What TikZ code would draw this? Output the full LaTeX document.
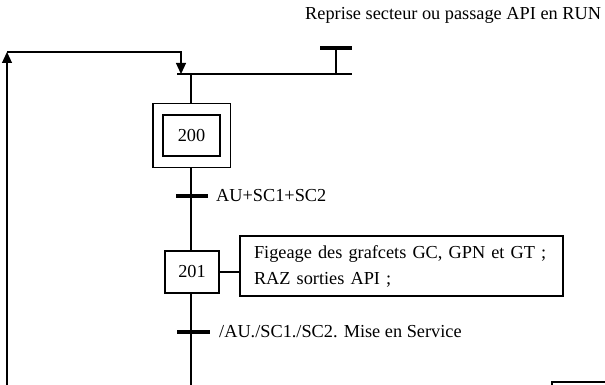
\documentclass[tikz,border=0pt]{standalone}
\usepackage{fontspec}
\setmainfont{Liberation Serif}
\usetikzlibrary{positioning,arrows.meta,fit}
\tikzset{
  stepbox/.style={draw, line width=1.1pt, minimum width=57pt, minimum height=41pt, inner sep=0pt},
  transbar/.style={fill=black, minimum width=32pt, minimum height=3.5pt, inner sep=0pt},
  actbox/.style={draw, line width=1.1pt, align=left, text width=295pt, minimum height=60pt,
                 inner xsep=14pt, inner ysep=0pt},
  recept/.style={anchor=west, inner sep=0pt},
  link/.style={line width=1.1pt},
  loopar/.style={link, -{Triangle[length=11pt,width=10pt]}},
}

\begin{document}
\begin{tikzpicture}[x=1pt, y=-1pt, font=\fontsize{18.3}{26}\selectfont]
  \useasboundingbox (0,0) rectangle (605,385);
  % initial step 200 (double frame)
  \node[stepbox] (s200) at (191.5,135.5) {200};
  \node[draw, link, fit=(s200), inner xsep=9.5pt, inner ysep=10.5pt] (s200o) {};
  % step 201 and its action
  \node[stepbox, minimum width=54pt, minimum height=42pt] (s201) at (192,272) {201};
  \node[actbox] (act201) at (401.5,266) {Figeage des grafcets GC, GPN et GT ;\\RAZ sorties API ;};
  % transitions
  \node[transbar] (t0) at (336,48) {};
  \node[transbar] (t1) at (192,196) {};
  \node[transbar, minimum width=33pt] (t2) at (193.5,332) {};
  \node[recept, anchor=base west] (r0) at (305,20) {Reprise secteur ou passage API en RUN};
  \node[recept] (r1) at (216,196) {AU+SC1+SC2};
  \node[recept] (r2) at (219,332) {/AU./SC1./SC2. Mise en Service};
  % convergence line above step 200
  \coordinate (convL) at (177,74);
  \coordinate (convR) at (352,74);
  \coordinate (convIn) at (181,74);
  \coordinate (s200in) at (191,74);
  \coordinate (t0in) at (336,74);
  \draw[link] (convL) -- (convR);
  \draw[link] (t0) -- (t0in);
  \draw[link] (s200in) -- (s200o.north -| s200in);
  % main sequence
  \draw[link] (s200o.south -| s200in) -- (s201.north -| s200in);
  \draw[link] (s201.south -| s200in) -- ++(0,92);
  \draw[link] (s201.east) -- (s201.east -| act201.west);
  % loop back from below
  \coordinate (loopB) at (7,385);
  \coordinate (loopT) at (7,52);
  \draw[loopar] (loopB) -- (loopT);
  \draw[loopar] (loopT) -| (convIn);
  % next box, cut off at the bottom
  \draw[link] (552,385) |- (605,382);
\end{tikzpicture}
\end{document}
